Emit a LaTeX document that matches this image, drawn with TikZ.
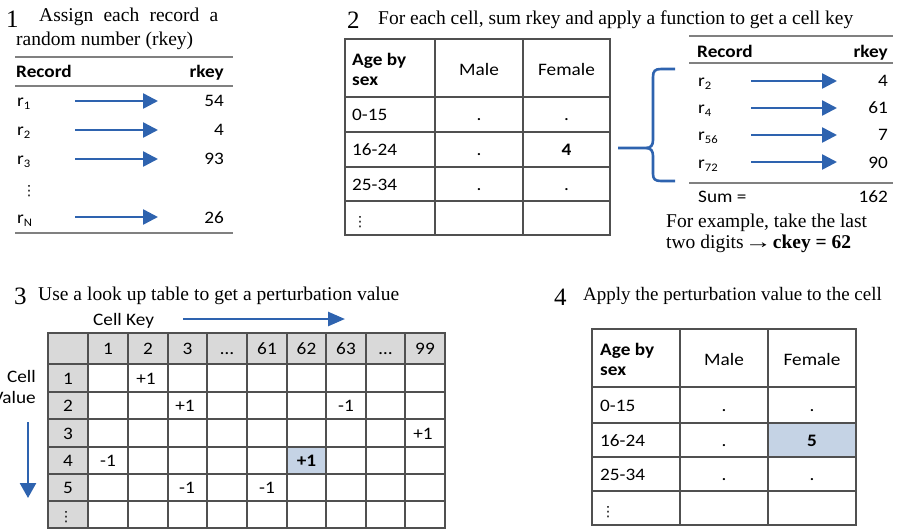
\documentclass[tikz,border=0pt]{standalone}
\usepackage{fontspec}
\setmainfont{Liberation Serif}
\newfontfamily\tabfont[FakeStretch=1.1]{Carlito}
\newfontfamily\symfont{DejaVu Sans}
\usetikzlibrary{arrows.meta}

\definecolor{arrowblue}{RGB}{46,99,175}
\definecolor{rulegray}{RGB}{128,128,128}
\definecolor{gridgray}{RGB}{80,80,80}
\definecolor{headgray}{RGB}{217,217,217}
\definecolor{hilite}{RGB}{197,211,229}

% record name with a lowered index
\newcommand\rsub[1]{r\raisebox{-3.5pt}{\fontsize{11.5}{11.5}\selectfont #1}}
% vertical ellipsis
\newcommand\vdotsym{{\symfont\fontsize{14}{14}\selectfont ⋮}}
% long thin text arrow
\newcommand\longto{\scalebox{1.4}[1]{→}}

\tikzset{
  cell/.style={font=\tabfont\fontsize{17.5}{20}\selectfont, inner sep=0pt, anchor=base},
  cellL/.style={cell, anchor=base west},
  cellR/.style={cell, anchor=base east},
  bcell/.style={cell, font=\tabfont\bfseries\fontsize{17.5}{20}\selectfont},
  title/.style={font=\fontsize{19.5}{23}\selectfont, inner sep=0pt, anchor=base west},
  stepnum/.style={font=\fontsize{25}{28}\selectfont, inner sep=0pt, anchor=base west},
  bluearrow/.style={draw=arrowblue, line width=2.6pt, -{Triangle[length=15pt,width=15pt]}},
  rule/.style={draw=rulegray, line width=1.5pt},
  grid/.style={draw=gridgray, line width=1.3pt},
}

\begin{document}
\begin{tikzpicture}[x=1pt,y=-1pt]
\useasboundingbox (0,0) rectangle (897,531);

%% ---------- Step 1: random keys per record ----------
\node[stepnum] (n1) at (6,27) {1};
\node[title] (t1a) at (39,21) {\makebox[179pt][s]{Assign each record a}};
\node[title] (t1b) at (16,45) {\makebox[177pt][s]{random number (rkey)}};
\draw[rule] (15,57) -- (233,57);
\draw[rule] (15,86) -- (233,86);
\draw[rule] (15,233) -- (233,233);
\node[bcell, anchor=base west] (h1r) at (16,77) {Record};
\node[bcell, anchor=base east] (h1k) at (224,77) {rkey};
\node[cellL] (a1) at (17,106) {\rsub{1}};
\node[cellL] (a2) at (17,135) {\rsub{2}};
\node[cellL] (a3) at (17,164) {\rsub{3}};
\node[cell, anchor=base west] (a4) at (22,195) {\vdotsym};
\node[cellL] (a5) at (17,223) {\rsub{N}};
\node[cellR] (k1) at (224,106) {54};
\node[cellR] (k2) at (224,135) {4};
\node[cellR] (k3) at (224,164) {93};
\node[cellR] (k5) at (224,223) {26};
\foreach \i/\y in {1/101,2/130,3/159,5/217}{
  \coordinate (s\i) at (75,\y);
  \coordinate (e\i) at (158,\y);
  \draw[bluearrow] (s\i) -- (e\i);
}

%% ---------- Step 2: cell key from summed rkeys ----------
\node[stepnum] (n2) at (347,28) {2};
\node[title] (t2) at (378,24) {\makebox[475pt][s]{For each cell, sum rkey and apply a function to get a cell key}};
\draw[grid] (345,39) rectangle (610,235);
\foreach \x in {435,523} \draw[grid] (\x,39) -- (\x,235);
\foreach \y in {97,132,167,201} \draw[grid] (345,\y) -- (610,\y);
\node[bcell, anchor=base west] (b1a) at (352,65) {Age by};
\node[bcell, anchor=base west] (b1b) at (352,85) {sex};
\node[cell] (b1m) at (479,75) {Male};
\node[cell] (b1f) at (566.5,75) {Female};
\node[cellL] (b2) at (352,120.5) {0-15};
\node[cellL] (b3) at (352,155.5) {16-24};
\node[cellL] (b4) at (352,190) {25-34};
\node[cell, anchor=base west] (b5) at (353,226) {\vdotsym};
\foreach \y/\n in {120.5/2,155.5/3,190/4}{
  \node[cell] (m\n) at (479,\y) {.};
}
\node[cell] (f2) at (566.5,120.5) {.};
\node[bcell] (f3) at (566.5,155.5) {4};
\node[cell] (f4) at (566.5,190) {.};

% brace collecting the records of the cell
\coordinate (brstart) at (618,148);
\coordinate (brtop) at (675,69);
\coordinate (brbot) at (675,181);
\draw[arrowblue, line width=2.6pt, line join=round]
  (brstart) -- (646,148)
  .. controls (651,148) and (653,145) .. (653,140) -- (653,77)
  .. controls (653,71) and (655,69) .. (661,69) -- (brtop);
\draw[arrowblue, line width=2.6pt, line join=round]
  (646,148) .. controls (651,148) and (653,151) .. (653,156) -- (653,174)
  .. controls (653,179) and (655,181) .. (661,181) -- (brbot);

\draw[rule] (689,36) -- (893,36);
\draw[rule] (689,63) -- (893,63);
\draw[rule] (689,183) -- (893,183);
\node[bcell, anchor=base west] (c0r) at (697,57) {Record};
\node[bcell, anchor=base east] (c0k) at (888,57) {rkey};
\node[cellL] (c1) at (698,86) {\rsub{2}};
\node[cellL] (c2) at (698,113) {\rsub{4}};
\node[cellL] (c3) at (698,140) {\rsub{56}};
\node[cellL] (c4) at (698,168) {\rsub{72}};
\node[cellR] (v1) at (888,86) {4};
\node[cellR] (v2) at (888,113) {61};
\node[cellR] (v3) at (888,140) {7};
\node[cellR] (v4) at (888,168) {90};
\foreach \i/\y in {1/81,2/108,3/135,4/162}{
  \coordinate (rs\i) at (751,\y);
  \coordinate (re\i) at (837,\y);
  \draw[bluearrow] (rs\i) -- (re\i);
}
\node[cellL] (sumL) at (698,202) {Sum =};
\node[cellR] (sumV) at (888,202) {162};
\node[title] (ex1) at (666,227) {For example, take the last};
\node[title] (ex2) at (666,248) {two digits\hspace{1pt}\longto\hspace{1pt}\textbf{ckey = 62}};

%% ---------- Step 3: perturbation look-up table ----------
\node[stepnum] (n3) at (14,304) {3};
\node[title] (t3) at (38,300) {\makebox[361pt][s]{Use a look up table to get a perturbation value}};
\node[cellL] (ck) at (93,325) {Cell Key};
\coordinate (cks) at (183,319);
\coordinate (cke) at (345,319);
\draw[bluearrow, -{Triangle[length=17pt,width=14pt]}] (cks) -- (cke);
\node[cellR] (cv1) at (36,382) {Cell};
\node[cellR] (cv2) at (36,403) {Value};
\coordinate (cvs) at (28,422);
\coordinate (cve) at (28,498);
\draw[bluearrow, -{Triangle[length=15pt,width=16pt]}] (cvs) -- (cve);

\fill[headgray] (48,333) rectangle (445,364);
\fill[headgray] (48,333) rectangle (88,528);
\fill[hilite] (287,447) rectangle (326,474);
\draw[grid, line width=1.5pt] (48,333) rectangle (445,528);
\foreach \x in {88,128,168,207,247,287,326,366,405}
  \draw[grid, line width=1.5pt] (\x,333) -- (\x,528);
\foreach \y in {364,392,419,447,474,501}
  \draw[grid, line width=1.5pt] (48,\y) -- (445,\y);
\foreach \x/\t/\n in {108/1/1,148/2/2,187.5/3/3,227/…/4,267/61/5,306.5/62/6,346/63/7,385.5/…/8,425/99/9}
  \node[cell] (hk\n) at (\x,354.5) {\t};
\foreach \y/\t/\n in {384/1/1,411.5/2/2,439/3/3,466.5/4/4,493.5/5/5}
  \node[cell] (hv\n) at (68,\y) {\t};
\node[cell] (hv6) at (66,521) {\vdotsym};
\node[cell] (p12) at (146,384) {+1};
\node[cell] (p23) at (185,411.5) {+1};
\node[cell] (p263) at (346,411.5) {-1};
\node[cell] (p399) at (423,439) {+1};
\node[cell] (p41) at (108,466.5) {-1};
\node[bcell] (p462) at (306.5,466.5) {+1};
\node[cell] (p53) at (187,493.5) {-1};
\node[cell] (p561) at (267,493.5) {-1};

%% ---------- Step 4: perturbed table ----------
\node[stepnum] (n4) at (554,305) {4};
\node[title, font=\fontsize{19}{23}\selectfont] (t4) at (583,300) {Apply the perturbation value to the cell};
\fill[hilite] (768,423) rectangle (856,457);
\draw[grid] (592,329) rectangle (856,525);
\foreach \x in {680,768} \draw[grid] (\x,329) -- (\x,525);
\foreach \y in {387,423,457,491} \draw[grid] (592,\y) -- (856,\y);
\node[bcell, anchor=base west] (d1a) at (600,355) {Age by};
\node[bcell, anchor=base west] (d1b) at (600,375) {sex};
\node[cell] (d1m) at (724,365) {Male};
\node[cell] (d1f) at (812,365) {Female};
\node[cellL] (d2) at (600,411) {0-15};
\node[cellL] (d3) at (600,446) {16-24};
\node[cellL] (d4) at (600,480) {25-34};
\node[cell, anchor=base west] (d5) at (601,516) {\vdotsym};
\node[cell] (dm2) at (724,411) {.};
\node[cell] (dm3) at (724,446) {.};
\node[cell] (dm4) at (724,480) {.};
\node[cell] (df2) at (812,411) {.};
\node[bcell] (df3) at (812,446) {5};
\node[cell] (df4) at (812,480) {.};
\end{tikzpicture}
\end{document}
